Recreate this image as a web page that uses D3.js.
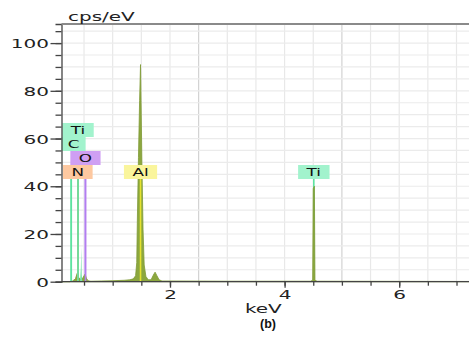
<!DOCTYPE html>
<html>
<head>
<meta charset="utf-8">
<script src="https://cdn.jsdelivr.net/npm/d3@7/dist/d3.min.js"></script>
<style>
  body { margin: 0; background: #fff; }
  svg { display: block; font-family: "DejaVu Sans", Verdana, sans-serif; }
</style>
</head>
<body>
<svg width="469" height="341"></svg>
<script>
// EDS spectrum (keV -> cps/eV)
const energies = [0.10, 0.25, 0.30, 0.35, 0.38, 0.39, 0.41, 0.44, 0.47, 0.50, 0.52, 0.54, 0.57, 0.62,
  0.80, 1.00, 1.20, 1.30, 1.36, 1.40, 1.42, 1.43, 1.45, 1.47, 1.486, 1.495, 1.51, 1.53, 1.55, 1.58, 1.62,
  1.67, 1.71, 1.74, 1.77, 1.81, 1.86, 2.00, 3.00, 4.45, 4.49, 4.50, 4.52, 4.53, 4.57, 7.30]
const counts = [0, 0, 0.3, 1.2, 3.5, 3.8, 1.5, 1.0, 1.2, 2.5, 3.2, 1.5, 0.4, 0.2,
  0.3, 0.4, 0.6, 0.8, 1.2, 2.5, 8, 25, 52, 76, 91, 76, 50, 22, 7, 2.2, 0.8,
  0.8, 2.8, 4.0, 2.6, 0.8, 0.3, 0.3, 0.2, 0.2, 0.6, 39, 40, 0.6, 0.2, 0.1]

// overlapping Ti L spike drawn in the marker colour
const tiLEnergies = [0.43, 0.445, 0.452, 0.46, 0.47]
const tiLCounts = [0, 6, 14.5, 3, 0]

// element markers
const markerNames = ["N", "Ti", "C", "O", "Al", "Ti"]
const markerEnergies = [0.392, 0.395, 0.277, 0.525, 1.486, 4.51]

// axes
const yMajorTicks = [0, 20, 40, 60, 80, 100]
const xLabelTicks = [2, 4, 6]

const svg = d3.select("svg")
const SX = 1.6 // the picture's text is stretched sideways

const x = d3.scaleLinear().domain([0.107, 7.3]).range([61.5, 473.7])
const y = d3.scaleLinear().domain([0, 108]).range([281.7, 24])
const plotL = x.range()[0], plotB = y.range()[0], plotT = y.range()[1]

const markerFill = { Ti: "#a2f3cd", C: "#a2f3cd", O: "#cf9ff3", N: "#fdc8a0", Al: "#faf59c" }
const markerLine = { Ti: "#5ce3a0", C: "#5ce3a0", O: "#b27ef0", N: "#f5b080", Al: "#e6e22e" }
// stacking row of each marker label (0 = top, 3 = bottom)
const labelRow = [3, 0, 1, 2, 3, 3]
const rowH = 14, rowBottom = 179

// grid
const grid = svg.append("g")
grid.selectAll(".gx")
  .data(d3.range(0.5, 7.01, 0.5))
  .enter().append("line")
  .attr("x1", d => x(d)).attr("x2", d => x(d))
  .attr("y1", plotT).attr("y2", plotB)
  .attr("stroke", d => d % 2.5 === 0 ? "#d2d2d2" : "#e8e8e8")
  .attr("stroke-width", 1.2)
grid.selectAll(".gy")
  .data(d3.range(5, 106, 5))
  .enter().append("line")
  .attr("x1", plotL).attr("x2", 469)
  .attr("y1", d => y(d)).attr("y2", d => y(d))
  .attr("stroke", "#ebebeb")
  .attr("stroke-width", 1.2)

// marker lines (under the spectrum)
const mline = (sel) => sel
  .attr("x1", (d, i) => x(markerEnergies[i]))
  .attr("x2", (d, i) => x(markerEnergies[i]))
  .attr("y1", rowBottom).attr("y2", plotB)
  .attr("stroke", d => markerLine[d])
  .attr("stroke-width", 1.6)
svg.append("g").selectAll("line")
  .data(markerNames)
  .enter().append("line")
  .call(mline)

// spectrum
const area = d3.area()
  .x(d => x(d[0]))
  .y0(plotB)
  .y1(d => y(d[1]))
svg.append("path")
  .datum(d3.zip(energies, counts))
  .attr("d", area)
  .attr("fill", "#8ca73f")
  .attr("stroke", "#7f9b36")
  .attr("stroke-width", 0.8)

svg.append("path")
  .datum(d3.zip(tiLEnergies, tiLCounts))
  .attr("d", area)
  .attr("fill", "#74e4a8")

// low-energy and Al lines stay visible over the spectrum
svg.append("g").selectAll("line")
  .data(markerNames)
  .enter().append("line")
  .call(mline)
  .attr("display", (d, i) => markerEnergies[i] < 2 ? null : "none")

// marker labels
const lab = svg.selectAll(".mlab")
  .data(markerNames)
  .enter().append("g")
lab.each(function (d, i) {
  const g = d3.select(this)
  const cx = x(markerEnergies[i])
  const yb = rowBottom - (3 - labelRow[i]) * rowH
  const t = g.append("text")
    .attr("font-size", 10.5)
    .attr("fill", "#111")
    .attr("text-anchor", "middle")
    .text(d)
  const w = t.node().getComputedTextLength() * SX + 17
  const x0 = Math.max(plotL, cx - w / 2), x1 = cx + w / 2
  g.insert("rect", "text")
    .attr("x", x0).attr("y", yb - rowH)
    .attr("width", x1 - x0).attr("height", rowH)
    .attr("fill", markerFill[d])
  t.attr("transform", `translate(${(x0 + x1) / 2},${yb - 3.3}) scale(${SX},1)`)
})

// y axis
const yAxis = svg.append("g").attr("transform", `translate(${plotL},0)`)
yAxis.call(d3.axisLeft(y).tickValues(d3.range(0, 106, 5)).tickSize(6).tickFormat(""))
yAxis.append("g")
  .call(d3.axisLeft(y).tickValues(yMajorTicks).tickSize(11).tickPadding(0))
  .call(g => g.select(".domain").remove())
  .selectAll("text")
  .attr("font-size", 12.5)
  .attr("font-family", "DejaVu Sans")
  .attr("fill", "#222")
  .attr("x", -12.5 / SX)
  .attr("dy", "0.36em")
  .attr("transform", `scale(${SX},1)`)
yAxis.selectAll("path, line").attr("stroke", "#444").attr("stroke-width", 1.3)

// x axis
const xAxis = svg.append("g").attr("transform", `translate(0,${plotB})`)
xAxis.call(d3.axisBottom(x).tickValues(d3.range(0.5, 7.01, 0.5)).tickSize(4).tickFormat(""))
xAxis.select(".domain").attr("d", `M${plotL},0H469`)
xAxis.append("g")
  .call(d3.axisBottom(x).tickValues(xLabelTicks).tickSize(6))
  .call(g => g.select(".domain").remove())
  .selectAll("text")
  .attr("font-size", 12.5)
  .attr("font-family", "DejaVu Sans")
  .attr("fill", "#222")
  .attr("dy", null)
  .attr("y", 17.5)
  .attr("transform", `scale(${SX},1)`)
xAxis.selectAll("path, line").attr("stroke", "#444").attr("stroke-width", 1.3)

// top frame line
svg.append("line")
  .attr("x1", plotL).attr("x2", 469)
  .attr("y1", plotT).attr("y2", plotT)
  .attr("stroke", "#8a8a8a").attr("stroke-width", 2)

// titles
svg.append("text")
  .attr("transform", `translate(68,20.7) scale(${SX},1)`)
  .attr("font-size", 12.5)
  .attr("fill", "#222")
  .text("cps/eV")
svg.append("text")
  .attr("transform", `translate(263.3,313) scale(${SX},1)`)
  .attr("text-anchor", "middle")
  .attr("font-size", 12.5)
  .attr("fill", "#222")
  .text("keV")
svg.append("text")
  .attr("x", 268).attr("y", 327.5)
  .attr("text-anchor", "middle")
  .attr("font-family", "Liberation Sans, Arial, sans-serif")
  .attr("font-weight", "bold")
  .attr("font-size", 12.5)
  .attr("fill", "#111")
  .text("(b)")
</script>
</body>
</html>
